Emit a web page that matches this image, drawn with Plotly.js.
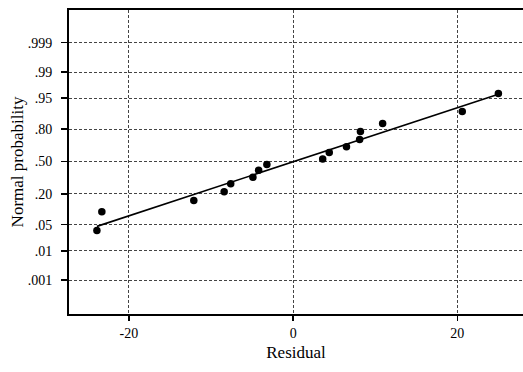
<!DOCTYPE html>
<html><head><meta charset="utf-8">
<script src="https://cdn.plot.ly/plotly-3.0.1.min.js"></script>
<style>html,body{margin:0;padding:0;background:#fff}#chart{width:523px;height:372px}</style>
</head><body><div id="chart"></div>
<script>
// Residuals and their normal-score (z) positions
const residual = [-23.9, -23.3, -12.1, -8.4, -7.6, -4.9, -4.2, -3.2, 3.6, 4.4, 6.5, 8.1, 8.2, 10.9, 20.6, 25.0];
const normalScore = [-1.80, -1.31, -1.02, -0.79, -0.58, -0.41, -0.23, -0.08, 0.06, 0.23, 0.38, 0.57, 0.78, 0.99, 1.30, 1.77];
// Fitted reference line endpoints
const lineX = [-23.9, 25.0];
const lineY = [-1.69, 1.75];
// Probability axis ticks (normal quantiles) and labels
const probTickVals = [3.09, 2.326, 1.645, 0.842, 0, -0.842, -1.645, -2.326, -3.09];
const probTickText = ['.999', '.99', '.95', '.80', '.50', '.20', '.05', '.01', '.001'];
const xTickVals = [-20, 0, 20];

const font = {family: '"Liberation Serif", "Times New Roman", serif', color: '#000'};

const traces = [
  {x: lineX, y: lineY, mode: 'lines', line: {color: '#000', width: 1.6}, hoverinfo: 'skip', showlegend: false},
  {x: residual, y: normalScore, mode: 'markers', marker: {color: '#000', size: 7.5}, showlegend: false}
];

const layout = {
  width: 523, height: 372,
  margin: {l: 69, r: 0, t: 10, b: 58},
  paper_bgcolor: '#fff', plot_bgcolor: '#fff',
  font: Object.assign({size: 14}, font),
  xaxis: {
    range: [-27.3, 28.0],
    tickvals: xTickVals, ticktext: xTickVals.map(String),
    showgrid: true, gridcolor: '#444', griddash: '3px,2px', gridwidth: 1,
    zeroline: false,
    showline: true, linecolor: '#000', linewidth: 2, mirror: true,
    ticks: 'outside', ticklen: 5, tickwidth: 1.5, tickcolor: '#000',
    tickfont: Object.assign({size: 14}, font),
    title: {text: 'Residual', font: Object.assign({size: 17}, font), standoff: 6}
  },
  yaxis: {
    range: [-3.97, 3.94],
    tickvals: probTickVals, ticktext: probTickText,
    showgrid: true, gridcolor: '#444', griddash: '3px,2px', gridwidth: 1,
    zeroline: false,
    showline: true, linecolor: '#000', linewidth: 2,
    ticks: 'outside', ticklen: 6, tickwidth: 1.5, tickcolor: '#000',
    ticklabelstandoff: 6,
    tickfont: Object.assign({size: 14}, font),
    title: {text: 'Normal probability', font: Object.assign({size: 17}, font), standoff: 0}
  }
};

Plotly.newPlot('chart', traces, layout, {displayModeBar: false, staticPlot: true});
</script>
</body></html>
